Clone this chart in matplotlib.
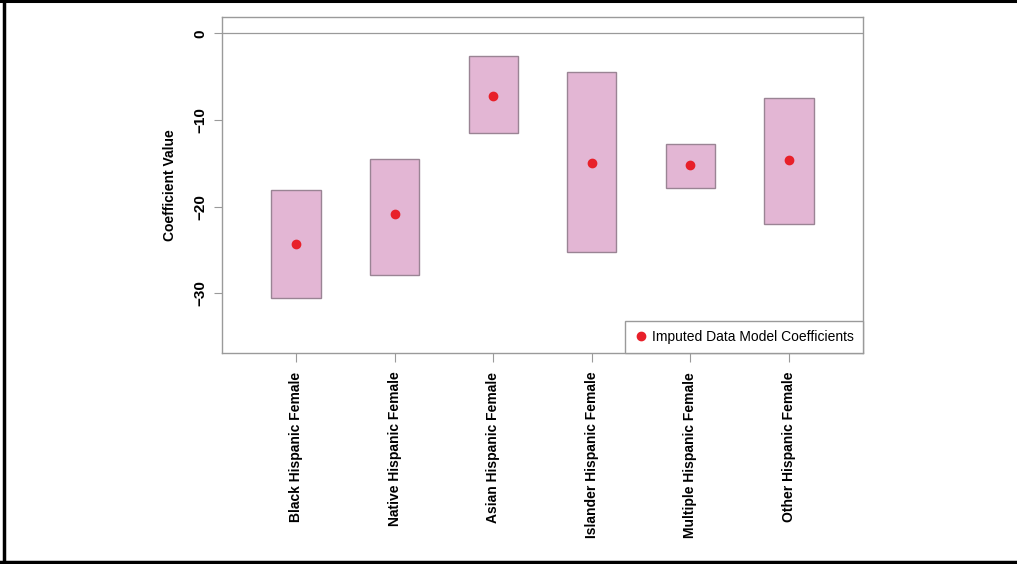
import matplotlib
matplotlib.use("Agg")
import matplotlib.pyplot as plt
from matplotlib.patches import Rectangle
from matplotlib.lines import Line2D

plt.rcParams['font.family'] = ['Liberation Sans', 'DejaVu Sans']

groups = ["Black Hispanic Female", "Native Hispanic Female", "Asian Hispanic Female",
          "Islander Hispanic Female", "Multiple Hispanic Female", "Other Hispanic Female"]
coef = [-24.3, -20.9, -7.2, -15.0, -15.2, -14.65]
upper = [-18.1, -14.5, -2.65, -4.5, -12.8, -7.5]
lower = [-30.6, -27.9, -11.5, -25.3, -17.8, -22.0]

grey = "#9a9a9a"
fig = plt.figure(figsize=(10.17, 5.64), dpi=100)
ax = fig.add_axes([222 / 1017, 1 - 353 / 564, 641 / 1017, 336 / 564])

xs = list(range(1, len(groups) + 1))
box_w = 0.5
for x, lo, hi in zip(xs, lower, upper):
    ax.add_patch(Rectangle((x - box_w / 2, lo), box_w, hi - lo,
                           facecolor="#e3b6d4", edgecolor="#9a8494", linewidth=1.0, zorder=2))
ax.axhline(0, color=grey, linewidth=0.9, zorder=1)
ax.plot(xs, coef, "o", color="#e8202a", markersize=6, linestyle="none", zorder=3,
        label="Imputed Data Model Coefficients")

ax.set_xlim(0.25, 6.75)
ax.set_ylim(-36.9, 1.88)
ax.set_yticks([0, -10, -20, -30])
ax.set_yticklabels(["0", "\u221210", "\u221220", "\u221230"], rotation=90, va="center",
                   fontsize=11, fontweight="bold")
ax.set_xticks(xs)
ax.set_xticklabels(groups, rotation=90, fontsize=10, fontweight="bold")
ax.tick_params(axis="y", length=5.5, color=grey, pad=5)
ax.tick_params(axis="x", length=6.5, color=grey, pad=7)
for s in ax.spines.values():
    s.set_color(grey)
    s.set_linewidth(1.0)
ax.set_ylabel("Coefficient Value", fontsize=10, fontweight="bold", labelpad=12)

leg = ax.legend(loc="lower right", borderaxespad=0, fontsize=10, handletextpad=0.3,
                handlelength=1.0, fancybox=False, framealpha=1, borderpad=0.65)
leg.get_frame().set_edgecolor(grey)
leg.get_frame().set_linewidth(1.0)

# outer frame
fig.add_artist(Line2D([4 / 1017, 4 / 1017], [0, 1], color="black", linewidth=2.5))
fig.add_artist(Line2D([0, 1], [1 - 0.5 / 564, 1 - 0.5 / 564], color="black", linewidth=2.2))
fig.add_artist(Line2D([0, 1], [2 / 564, 2 / 564], color="black", linewidth=2.5))

fig.savefig("out.png", dpi=100)
